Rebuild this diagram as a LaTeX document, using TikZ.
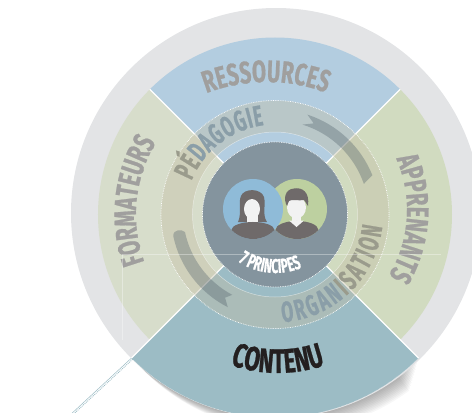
\documentclass[tikz,border=0pt]{standalone}
\usepackage{fontspec}
\usepackage{tikz}
\usetikzlibrary{decorations.text}
\newfontfamily\capsfont[FakeStretch=0.66,BoldFeatures={FakeBold=0.7}]{Fira Sans}
\newfontfamily\narrowcaps[FakeStretch=0.6,BoldFeatures={FakeBold=0.7}]{Fira Sans}
\definecolor{outergray}{HTML}{E3E4E6}
\definecolor{ressourcesblue}{HTML}{B3CDE0}
\definecolor{formateursgreen}{HTML}{D7DDCB}
\definecolor{apprenantsgreen}{HTML}{D1DBC0}
\definecolor{contenuteal}{HTML}{9CBCC5}
\definecolor{ringtan}{HTML}{C3BEA5}
\definecolor{centerslate}{HTML}{84949E}
\definecolor{labelgray}{HTML}{A09F9E}
\definecolor{labelolive}{HTML}{9A9B8C}
\definecolor{labelslate}{HTML}{8A9EA8}
\definecolor{ribbonslate}{HTML}{4A5A66}
\definecolor{womanblue}{HTML}{8FBBD8}
\definecolor{mangreen}{HTML}{BDD0A0}
\definecolor{bustgray}{HTML}{6F6A6A}
\definecolor{faceLight}{HTML}{F2F2F2}
\definecolor{contenuink}{HTML}{231F20}
\newcommand{\sectorfont}{\capsfont\bfseries\fontsize{31}{31}\selectfont\color{labelgray}}
\newcommand{\ringolive}{\narrowcaps\bfseries\fontsize{29}{29}\selectfont\color{labelolive}}
\newcommand{\ringslate}{\narrowcaps\bfseries\fontsize{29}{29}\selectfont\color{labelslate}}
\newcommand{\contenufont}{\capsfont\bfseries\fontsize{34}{34}\selectfont\color{contenuink}}
\newcommand{\principesfont}{\narrowcaps\bfseries\fontsize{20}{20}\selectfont\color{white}}
\tikzset{
    curvetext/.style={decorate, decoration={text along path, text align={fit to path}, text={#1}}},
    dottedring/.style={white, line width=0.7pt, densely dotted},
    ribbon/.style={fill=ribbonslate, fill opacity=0.33}
}

\begin{document}
\begin{tikzpicture}[x=1pt, y=1pt]
    \useasboundingbox (-275,-198.5) rectangle (197,214.5);

    % === SHADOW UNDER CONTENU ===
    \foreach \i in {1,...,12} {
        \pgfmathsetmacro{\shadowend}{315-\i*0.7}
        \fill[black, opacity=0.03, shift={(\i*1.1,-\i*1.1)}]
            (0,0) -- (225:203pt) arc[start angle=225, end angle=\shadowend, radius=203pt] -- cycle;
    }

    % === OUTER DISC AND SECTORS ===
    \fill[outergray] (1,1.5) circle (205pt);
    \foreach \a/\sectorcolor in {45/ressourcesblue, 135/formateursgreen, -45/apprenantsgreen} {
        \fill[\sectorcolor] (0,0) -- (\a:177pt) arc[start angle=\a, delta angle=90, radius=177pt] -- cycle;
    }
    \fill[contenuteal] (0,0) -- (225:203pt) arc[start angle=225, end angle=315, radius=203pt] -- cycle;
    \draw[white, line width=0.4pt, densely dotted, opacity=0.6] (225:203pt) arc[start angle=225, end angle=315, radius=203pt];

    % white separators
    \foreach \a/\r in {45/177, 135/177, 225/203, 315/203} {
        \draw[white, line width=1.3pt] (\a:72pt) -- (\a:\r pt);
    }

    % === CONNECTOR ===
    \coordinate (cornerleft) at (225:203pt);
    \coordinate (lineend) at (-206,-201.5);
    \draw[contenuteal, line width=0.5pt] (cornerleft) -- (lineend);
    \draw[contenuteal, line width=0.9pt, densely dotted] ([shift={(1.2,-1.2)}]cornerleft) -- ([shift={(1.2,-1.2)}]lineend);

    % === RING ===
    \fill[ringtan, fill opacity=0.4, even odd rule] (0,0) circle (114pt) (0,0) circle (82.5pt);
    \draw[dottedring] (0,0) circle (114pt);
    \draw[white, line width=0.5pt, opacity=0.5] (0,0) circle (82.5pt);

    % ribbon arrows
    \fill[ribbon] (72:105pt) arc[start angle=72, end angle=22, radius=105pt]
        -- (19:94pt) arc[start angle=19, end angle=73, radius=94pt] -- (67:99pt) -- cycle;
    \fill[ribbon] (192:104pt) arc[start angle=192, end angle=243, radius=104pt]
        -- (239:97pt) -- (242:91pt) arc[start angle=242, end angle=192, radius=93pt]
        .. controls (189:94pt) and (188:103pt) .. cycle;

    % === CENTER DISC ===
    \fill[centerslate] (0,0) circle (72.5pt);
    \draw[dottedring] (0,0) circle (72.5pt);

    % === PORTRAITS ===
    \fill[mangreen] (22,5.5) circle (30pt);
    \fill[womanblue] (-22,5.5) circle (30pt);
    \begin{scope}[shift={(-22,5.5)}]
        \fill[bustgray] (-15,-13) .. controls (-11,-4) and (-15,6) .. (-12,13)
            .. controls (-9,21) and (8,21) .. (11,12)
            .. controls (13,4) and (9,-6) .. (14,-13) -- cycle;
        \fill[faceLight] (-1,0) ellipse (8pt and 10pt);
        \fill[faceLight] (-6,-7) rectangle (5,-16);
        \fill[bustgray] (224.4:30pt) arc[start angle=224.4, end angle=315.6, radius=30pt]
            arc[start angle=0, end angle=180, x radius=21.5pt, y radius=8pt];
    \end{scope}
    \begin{scope}[shift={(22,5.5)}]
        \fill[faceLight] (-0.5,1.5) ellipse (9.5pt and 11pt);
        \fill[faceLight] (-5,-6) rectangle (4,-12);
        \fill[bustgray] (224.4:30pt) arc[start angle=224.4, end angle=315.6, radius=30pt]
            arc[start angle=0, end angle=180, x radius=21.5pt, y radius=9pt];
        \fill[faceLight] (-8,-11.5) -- (7,-11.5) -- (-0.5,-18) -- cycle;
        \fill[bustgray] (-10,3) .. controls (-14,10) and (-12,20) .. (-3,20.5)
            .. controls (5,22) and (13,17) .. (11,3)
            .. controls (9,6) and (8,8) .. (7,9)
            .. controls (2,8) and (-6,10) .. (-8,8) -- cycle;
    \end{scope}

    % === LABELS ===
    \begin{scope}[shift={(-8,-36.5)}]
        \path[curvetext={|\sectorfont|RESSOURCES}] (111:169pt) arc[start angle=111, end angle=69.5, radius=169pt];
    \end{scope}
    \path[curvetext={|\sectorfont|FORMATEURS}] (200:139pt) arc[start angle=200, end angle=149, radius=139pt];
    \begin{scope}[shift={(5,4.5)}]
        \path[curvetext={|\sectorfont|APPRENANTS}] (23.8:127pt) arc[start angle=23.8, end angle=-31.3, radius=127pt];
    \end{scope}
    \begin{scope}[shift={(3,-15.5)}]
        \path[curvetext={|\contenufont|CONTENU}] (250.5:143pt) arc[start angle=250.5, end angle=288.7, radius=143pt];
    \end{scope}
    \path[curvetext={|\ringolive|PÉ|||\ringslate|DAGOGIE}] (158:90pt) arc[start angle=158, end angle=97, radius=90pt];
    \path[curvetext={|\ringslate|ORGAN|||\ringolive|ISATION}] (-86:108pt) arc[start angle=-86, end angle=-6.5, radius=108pt];
    \begin{scope}[shift={(0.6,9.5)}]
        \path[curvetext={|\principesfont|7 PRINCIPES}] (236.6:68pt) arc[start angle=236.6, end angle=292.7, radius=68pt];
    \end{scope}

    % === FAINT GUIDES ===
    \draw[white, line width=0.4pt, opacity=0.35] (-153,-125.5) -- (-153,-39.5) -- (166,-39.5);
\end{tikzpicture}
\end{document}
